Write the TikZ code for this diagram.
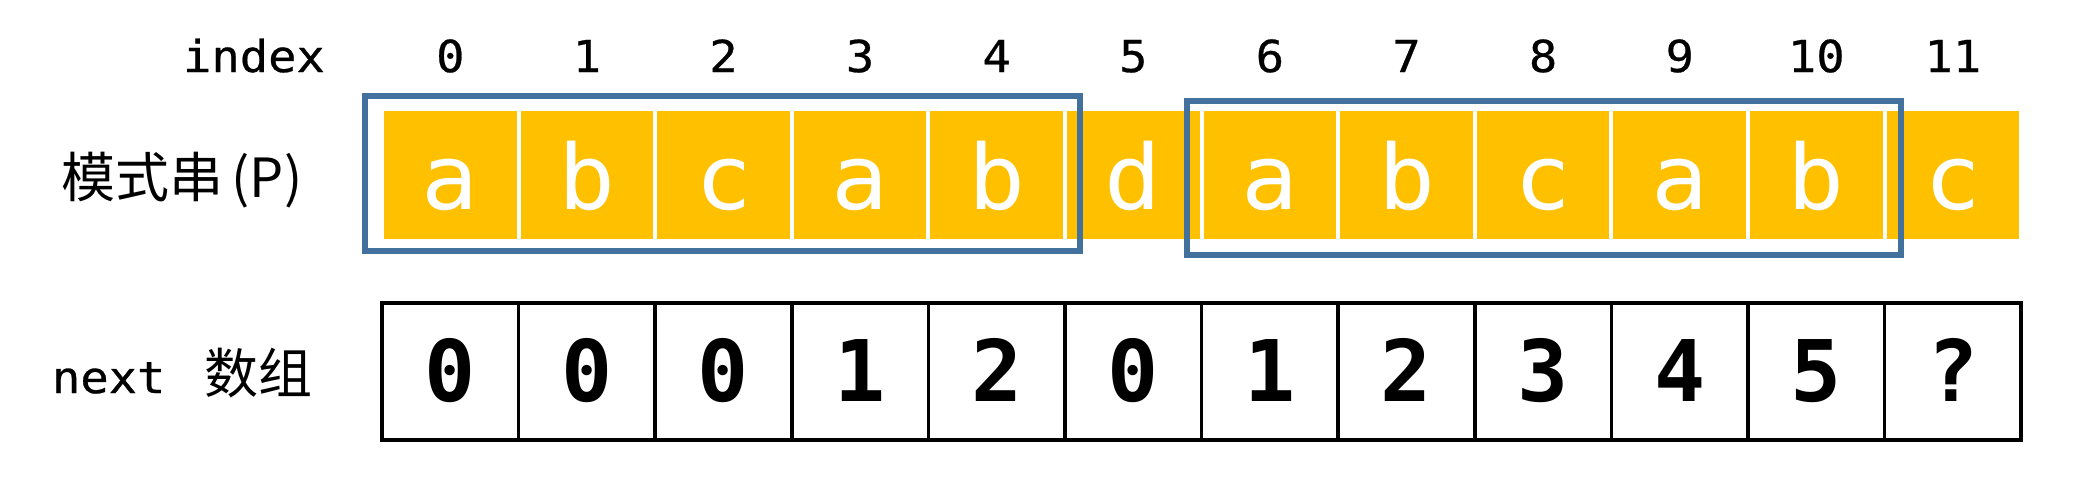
\documentclass[tikz,border=0pt]{standalone}
\usepackage{fontspec}
\setmonofont{DejaVu Sans Mono}
\newfontfamily\cjkfont{Noto Sans CJK SC}
\newfontfamily\idxfamily[FakeStretch=1.07,FakeBold=0.6]{DejaVu Sans Mono}
\newfontfamily\letfamily[FakeStretch=1.05]{DejaVu Sans Mono}
\newfontfamily\digfamily{DejaVu Sans Mono Bold}
\definecolor{gold}{HTML}{FFC000}
\definecolor{boxblue}{HTML}{41719C}
\begin{document}
\begin{tikzpicture}[x=0.5pt,y=-0.5pt,
  pcell/.style={fill=gold, minimum width=66.3pt, minimum height=64.1pt, inner sep=0pt, outer sep=0pt,
    text=white, font=\letfamily\fontsize{45pt}{47pt}\selectfont, text height=33.8pt, text depth=0pt},
  ncell/.style={draw=black, line width=1.75pt, minimum width=68.3pt, minimum height=68.5pt, inner sep=0pt, outer sep=0pt,
    font=\digfamily\fontsize{42.5pt}{44pt}\selectfont, text height=30.4pt, text depth=0pt},
  idx/.style={anchor=base, inner sep=0pt, font=\idxfamily\fontsize{22pt}{24pt}\selectfont},
  lab/.style={inner sep=0pt, font=\fontsize{27pt}{29pt}\selectfont},
  match/.style={draw=boxblue, line width=3pt}]
\useasboundingbox (0,0) rectangle (2100,494);
% index row
\node[idx] (idxlabel) at (254,72) {index};
\foreach \i in {0,...,11}
  \node[idx] (idx\i) at ({450.3+136.6*\i},72) {\i};
% pattern row
\foreach \c [count=\j from 0] in {a,b,c,a,b,d,a,b,c,a,b,c}
  \node[pcell] (p\j) at ({450.3+136.6*\j},175.2) {\c};
\node[lab] (plabel) at (182,180) {\cjkfont 模式串\hspace{0.15em}(P)};
% next row
\foreach \v [count=\j from 0] in {0,0,0,1,2,0,1,2,3,4,5,?}
  \node[ncell] (n\j) at ({450.3+136.6*\j},371.3) {\v};
\node[lab] (nlabel) at (182.5,372.6) {\idxfamily\fontsize{22pt}{24pt}\selectfont next\hspace{0.9em}\cjkfont\fontsize{27pt}{29pt}\selectfont 数组};
% matching boxes
\draw[match] (365,96.3) rectangle (1079.5,250.9);
\draw[match] (1186.6,100.5) rectangle (1901,255);
\end{tikzpicture}
\end{document}
